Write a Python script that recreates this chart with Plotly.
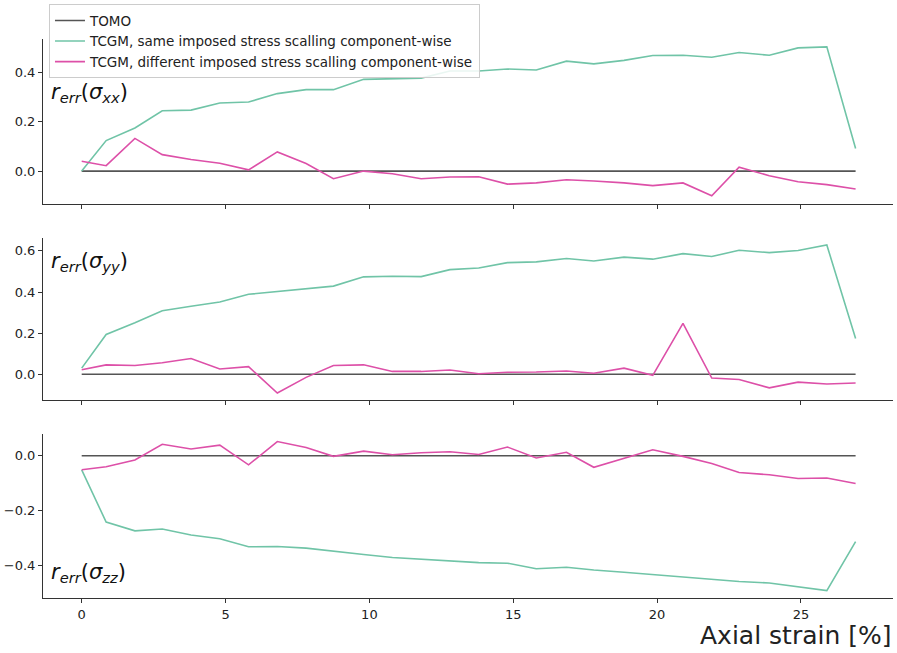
import plotly.graph_objects as go

# Axial strain sample positions [%]
strain = [0, 0.85, 1.85, 2.8, 3.8, 4.8, 5.8, 6.8, 7.8, 8.75, 9.8, 10.8, 11.8, 12.8,
          13.8, 14.8, 15.8, 16.85, 17.8, 18.85, 19.85, 20.9, 21.9, 22.85, 23.9,
          24.9, 25.9, 26.9]

# Reference (tomography) error is zero by definition
tomo = [0.0] * len(strain)

# Relative error, same imposed stress scaling component-wise
same_xx = [0.0, 0.124, 0.175, 0.245, 0.248, 0.277, 0.281, 0.315, 0.331, 0.331,
           0.373, 0.376, 0.378, 0.407, 0.407, 0.415, 0.411, 0.447, 0.436, 0.450,
           0.470, 0.471, 0.463, 0.482, 0.471, 0.501, 0.505, 0.092]
same_yy = [0.030, 0.194, 0.251, 0.309, 0.331, 0.352, 0.389, 0.402, 0.416, 0.429,
           0.474, 0.477, 0.475, 0.509, 0.517, 0.543, 0.547, 0.563, 0.551, 0.570,
           0.560, 0.587, 0.573, 0.603, 0.592, 0.602, 0.629, 0.174]
same_zz = [-0.051, -0.242, -0.274, -0.267, -0.289, -0.303, -0.332, -0.331, -0.337,
           -0.349, -0.360, -0.371, -0.377, -0.382, -0.390, -0.392, -0.412, -0.407,
           -0.417, -0.425, -0.433, -0.441, -0.450, -0.459, -0.464, -0.478, -0.492,
           -0.313]

# Relative error, different imposed stress scaling component-wise
diff_xx = [0.040, 0.022, 0.133, 0.067, 0.047, 0.032, 0.005, 0.078, 0.031, -0.031,
           0.0, -0.011, -0.031, -0.024, -0.023, -0.053, -0.048, -0.035, -0.040,
           -0.048, -0.059, -0.048, -0.100, 0.016, -0.019, -0.043, -0.055, -0.073]
diff_yy = [0.022, 0.046, 0.043, 0.056, 0.077, 0.026, 0.037, -0.091, -0.015, 0.043,
           0.046, 0.014, 0.014, 0.021, 0.003, 0.010, 0.011, 0.016, 0.005, 0.030,
           -0.005, 0.248, -0.018, -0.025, -0.066, -0.038, -0.047, -0.042]
diff_zz = [-0.051, -0.040, -0.015, 0.042, 0.025, 0.039, -0.033, 0.052, 0.030,
           -0.002, 0.017, 0.004, 0.011, 0.015, 0.005, 0.032, -0.008, 0.013, -0.042,
           -0.010, 0.022, -0.002, -0.028, -0.061, -0.069, -0.083, -0.081, -0.101]

series_names = ["TOMO",
                "TCGM, same imposed stress scalling component-wise",
                "TCGM, different imposed stress scalling component-wise"]
colors = ["#555555", "#70c4a7", "#dd50a8"]

# plot area spans pixel rows TOP..BOT of the 653 px page
TOP, BOT = 34, 598
H = BOT - TOP


def dom(p_top, p_bot):
    return [max(0.0, (BOT - p_bot) / H), min(1.0, (BOT - p_top) / H)]


panels = [
    ("x", "y", same_xx, diff_xx, [0.0, 0.2, 0.4], [-0.133, 0.537], dom(35, 201),
     "<i>r</i><sub><i>err</i></sub>(<i>σ</i><sub><i>xx</i></sub>)"),
    ("x2", "y2", same_yy, diff_yy, [0.0, 0.2, 0.4, 0.6], [-0.127, 0.665], dom(235, 399),
     "<i>r</i><sub><i>err</i></sub>(<i>σ</i><sub><i>yy</i></sub>)"),
    ("x3", "y3", same_zz, diff_zz, [-0.4, -0.2, 0.0], [-0.519, 0.079], dom(433, 598),
     "<i>r</i><sub><i>err</i></sub>(<i>σ</i><sub><i>zz</i></sub>)"),
]

fig = go.Figure()
for k, (xa, ya, same, diff, yt, yr, dm, lab) in enumerate(panels):
    for j, vals in enumerate([tomo, same, diff]):
        fig.add_trace(go.Scatter(
            x=strain, y=vals, mode="lines", xaxis=xa, yaxis=ya,
            name=series_names[j], showlegend=(k == 0),
            line=dict(color=colors[j], width=1.6)))

axis_common = dict(showline=True, linecolor="#333333", linewidth=1, ticks="outside",
                   ticklen=4, tickwidth=1, tickcolor="#333333", showgrid=False,
                   zeroline=False, tickfont=dict(family="DejaVu Sans", size=13,
                                                 color="#222222"))
layout = dict(
    width=897, height=653,
    margin=dict(l=40, r=4, t=TOP, b=653 - BOT),
    plot_bgcolor="white", paper_bgcolor="white",
    showlegend=True,
    legend=dict(x=(46 - 40) / 853, y=(BOT - 0) / H, xanchor="left", yanchor="top",
                bgcolor="rgba(255,255,255,0.85)", bordercolor="#cccccc",
                borderwidth=1, itemwidth=30,
                font=dict(family="DejaVu Sans", size=13.5, color="#222222"),
                tracegroupgap=0),
)
ann = []
label_y = [89, 260, 573]
for k, (xa, ya, same, diff, yt, yr, dm, lab) in enumerate(panels):
    xname = "xaxis" if k == 0 else f"xaxis{k+1}"
    yname = "yaxis" if k == 0 else f"yaxis{k+1}"
    layout[xname] = dict(axis_common, range=[-1.345, 28.2], domain=[0, 1],
                         anchor=ya, tickvals=[0, 5, 10, 15, 20, 25],
                         showticklabels=(k == 2))
    layout[yname] = dict(axis_common, range=yr, domain=dm, anchor=xa,
                         tickvals=yt, tickformat=".1f")
    ann.append(dict(text=lab, xref="paper", yref="paper",
                    x=(46 - 40) / 853, y=(BOT - label_y[k]) / H,
                    xanchor="left", yanchor="middle", showarrow=False,
                    font=dict(family="DejaVu Sans", size=21, color="#111111")))
ann.append(dict(text="Axial strain [%]", xref="paper", yref="paper",
                x=1.0, y=(BOT - 636) / H, xanchor="right", yanchor="middle",
                showarrow=False,
                font=dict(family="DejaVu Sans", size=25, color="#222222")))
layout["annotations"] = ann
fig.update_layout(**layout)

fig.write_html("out.html")
